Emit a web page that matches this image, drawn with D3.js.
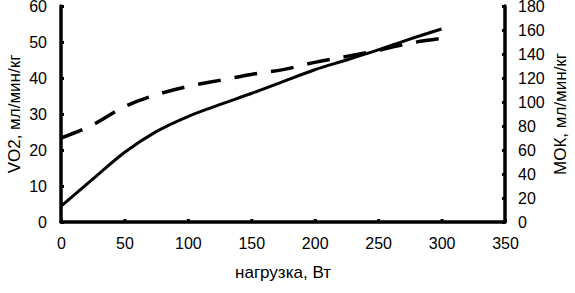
<!DOCTYPE html>
<html>
<head>
<meta charset="utf-8">
<script src="https://cdn.jsdelivr.net/npm/d3@7"></script>
<style>
  body { margin: 0; background: #fff; }
  text { font-family: "Liberation Sans", Arial, sans-serif; fill: #000; }
</style>
</head>
<body>
<div class="canvas"></div>
<script>
// data
const loads = [0, 25, 50, 75, 100, 125, 150, 175, 200, 225, 250, 275, 300]
const vo2 = [4.4, 11.9, 19.3, 25.1, 29.3, 32.6, 35.7, 39, 42.3, 45, 47.8, 50.8, 53.6]
const mok = [70, 81, 96, 106, 113, 118, 123, 127, 133, 138, 143, 149, 153]
const xTicks = [0, 50, 100, 150, 200, 250, 300, 350]
const leftTicks = [0, 10, 20, 30, 40, 50, 60]
const rightTicks = [0, 20, 40, 60, 80, 100, 120, 140, 160, 180]

const width = 575
const height = 293

const svg = d3.select(".canvas")
    .append("svg")
    .attr("width", width)
    .attr("height", height)

const margin = { top: 6, right: 70, bottom: 71, left: 61 }
const graphWidth = width - margin.left - margin.right
const graphHeight = height - margin.top - margin.bottom

const graph = svg.append("g")
    .attr("transform", `translate(${margin.left}, ${margin.top})`)

const x = d3.scaleLinear().domain([0, 350]).range([0, graphWidth])
const yLeft = d3.scaleLinear().domain([0, 60]).range([graphHeight, 0])
const yRight = d3.scaleLinear().domain([0, 180]).range([graphHeight, 0])

// axes, ticks pointing inward
const xAxis = d3.axisBottom(x).tickValues(xTicks).tickSize(-3).tickPadding(16)
const leftAxis = d3.axisLeft(yLeft).tickValues(leftTicks).tickSize(-3).tickPadding(14)
const rightAxis = d3.axisRight(yRight).tickValues(rightTicks).tickSize(-3).tickPadding(13)

const xAxisGroup = graph.append("g")
    .attr("transform", `translate(0, ${graphHeight})`)
    .call(xAxis)
const leftGroup = graph.append("g").call(leftAxis)
const rightGroup = graph.append("g")
    .attr("transform", `translate(${graphWidth}, 0)`)
    .call(rightAxis)

;[xAxisGroup, leftGroup, rightGroup].forEach(g => {
    g.select(".domain").attr("stroke", "#000").attr("stroke-width", 3.5)
        .attr("stroke-linecap", "round")
    g.selectAll(".tick line").attr("stroke", "#000").attr("stroke-width", 3)
    g.selectAll(".tick text").attr("font-size", 16).attr("fill", "#000")
        .style("font-family", "'Liberation Sans', Arial, sans-serif")
})
leftGroup.select(".domain").attr("d", `M0,0V${graphHeight}`)
rightGroup.select(".domain").attr("d", `M0,0V${graphHeight}`)
xAxisGroup.select(".domain").attr("d", `M0,0H${graphWidth}`)

// lines
const vo2Line = d3.line()
    .x((d, i) => x(loads[i]))
    .y(d => yLeft(d))
    .curve(d3.curveMonotoneX)
const mokLine = d3.line()
    .x((d, i) => x(loads[i]))
    .y(d => yRight(d))
    .curve(d3.curveMonotoneX)

graph.append("path")
    .attr("d", vo2Line(vo2))
    .attr("fill", "none")
    .attr("stroke", "#000")
    .attr("stroke-width", 3)

graph.append("path")
    .attr("d", mokLine(mok))
    .attr("fill", "none")
    .attr("stroke", "#000")
    .attr("stroke-width", 3.5)
    .attr("stroke-dasharray", "23,14")

// axis titles
svg.append("text")
    .attr("x", 283)
    .attr("y", 278)
    .attr("text-anchor", "middle")
    .attr("font-size", 17)
    .text("нагрузка, Вт")

svg.append("text")
    .attr("transform", `translate(20, ${margin.top + graphHeight / 2}) rotate(-90)`)
    .attr("text-anchor", "middle")
    .attr("font-size", 17)
    .text("VO2, мл/мин/кг")

svg.append("text")
    .attr("transform", `translate(566, ${margin.top + graphHeight / 2}) rotate(-90)`)
    .attr("text-anchor", "middle")
    .attr("font-size", 17)
    .text("МОК, мл/мин/кг")
</script>
</body>
</html>
